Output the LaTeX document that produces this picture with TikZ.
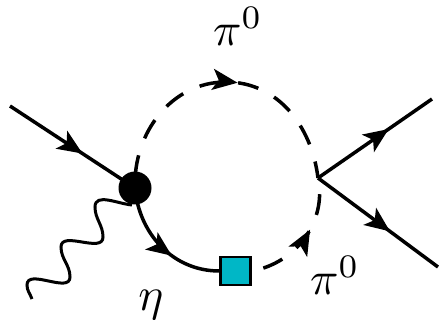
\documentclass[tikz,border=0pt]{standalone}
\usepackage{xcolor}
\usetikzlibrary{positioning, arrows.meta, decorations.markings}
\definecolor{squareteal}{HTML}{00B7C6}

\begin{document}
\begin{tikzpicture}[x=1pt, y=-1pt,
    arrowat/.style={postaction={decorate}, decoration={markings, mark=at position #1 with {\arrow{Stealth[length=25pt, width=21pt, inset=6pt]}}}}]
    % Styles
    \tikzstyle{line} = [draw, line width=3.5pt, line cap=butt]
    \tikzstyle{scalar} = [line, dash pattern=on 21pt off 18pt]
    \tikzstyle{blob} = [circle, fill=black, inner sep=0pt, minimum size=33pt]
    \tikzstyle{insertion} = [rectangle, draw=black, line width=2.4pt, fill=squareteal, inner sep=0pt, minimum width=30pt, minimum height=28pt]
    \tikzstyle{label} = [scale=4.7, inner sep=0pt]

    \useasboundingbox (0,0) rectangle (439,320);

    % Nodes
    \coordinate (vertexL) at (135,188);
    \coordinate (vertexR) at (318,178);
    \coordinate (topArc) at (226,82);
    \coordinate (inEnd) at (10,106);
    \coordinate (outUp) at (432,99);
    \coordinate (outDown) at (438,267);
    \coordinate (waveEnd) at (32,299);
    \node [insertion] (square) at (235.5,271) {};
    \node [label] (pitop) at (238,26) {$\pi^0$};
    \node [label] (pibottom) at (335,275) {$\pi^0$};
    \node [label] (eta) at (151,305) {$\eta$};

    % Paths
    \path [line, arrowat=0.58] (inEnd) -- (vertexL);
    \path [line, arrowat=0.62] (vertexR) -- (outUp);
    \path [line, arrowat=0.60] (vertexR) -- (outDown);
    \path [line, arrowat=0.61] (vertexL) to[out=-85, in=180] (square.west);
    \path [scalar, dash phase=27pt, arrowat=0.555] (vertexL) to[out=92, in=180] (topArc) to[out=0, in=97] (vertexR);
    \path [scalar, dash phase=27pt, arrowat=0.58] (square.east) to[out=10, in=-78] (vertexR);
    \path [line, line width=3pt] (132,205) to[out=175, in=90] (95,207) to[out=-90, in=90] (103,237) to[out=-90, in=90] (61,247) to[out=-90, in=90] (70,277) to[out=-90, in=90] (27,285) to[out=-90, in=110] (waveEnd);
    \node [blob] (vertex) at (vertexL) {};
\end{tikzpicture}
\end{document}
